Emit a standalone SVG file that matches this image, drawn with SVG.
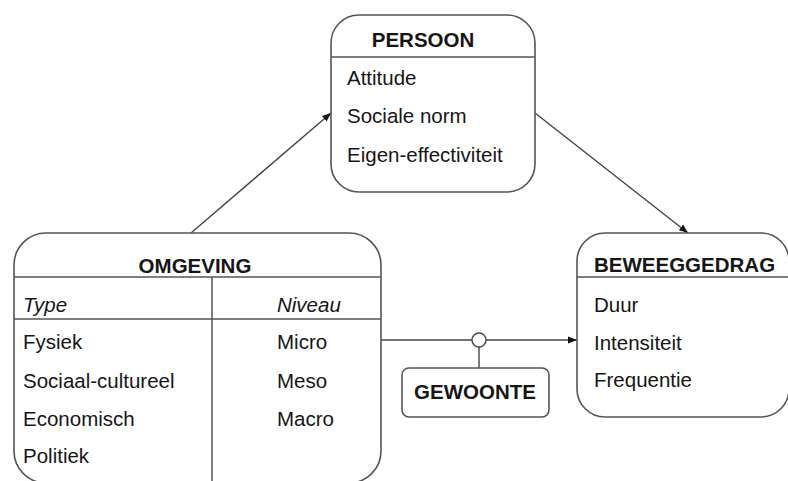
<svg xmlns="http://www.w3.org/2000/svg" width="788" height="481" viewBox="0 0 788 481">
<defs>
<style>
.box{fill:#fff;stroke:#555;stroke-width:1.6}
.sep{stroke:#555;stroke-width:1.5;fill:none}
.t{font-family:"Liberation Sans",Arial,sans-serif;font-size:20.5px;fill:#161616}
.b{font-weight:bold}
.i{font-style:italic}
.c{stroke:#444;stroke-width:1.4;fill:none}
</style>
<marker id="ah" viewBox="0 0 10 10" refX="10" refY="5" markerWidth="9" markerHeight="9" markerUnits="userSpaceOnUse" orient="auto">
<path d="M0,1 L10,5 L0,9 z" fill="#111"/>
</marker>
</defs>
<rect width="788" height="481" fill="#fff"/>
<g id="connectors">
<line class="c" x1="191" y1="233" x2="331" y2="113" marker-end="url(#ah)"/>
<line class="c" x1="535" y1="113" x2="688" y2="233" marker-end="url(#ah)"/>
<line class="c" x1="381" y1="340" x2="577" y2="340" marker-end="url(#ah)"/>
<line class="c" x1="479" y1="347" x2="479" y2="368"/>
<circle class="c" cx="479" cy="340" r="7" style="fill:#fff"/>
</g>
<g id="persoon">
<rect class="box" x="331" y="15" width="204" height="177" rx="28"/>
<line class="sep" x1="331" y1="57" x2="535" y2="57"/>
<text class="t b" x="423" y="47" text-anchor="middle">PERSOON</text>
<text class="t" x="347" y="85">Attitude</text>
<text class="t" x="347" y="123">Sociale norm</text>
<text class="t" x="347" y="162">Eigen-effectiviteit</text>
</g>
<g id="omgeving">
<rect class="box" x="14" y="233" width="367" height="250" rx="32"/>
<line class="sep" x1="14" y1="277" x2="381" y2="277"/>
<line class="sep" x1="14" y1="319" x2="381" y2="319"/>
<line class="sep" x1="212" y1="277" x2="212" y2="483"/>
<text class="t b" x="195" y="273" text-anchor="middle">OMGEVING</text>
<text class="t i" x="23" y="312">Type</text>
<text class="t i" x="277" y="312">Niveau</text>
<text class="t" x="23" y="349">Fysiek</text>
<text class="t" x="23" y="388">Sociaal-cultureel</text>
<text class="t" x="23" y="426">Economisch</text>
<text class="t" x="23" y="463">Politiek</text>
<text class="t" x="277" y="349">Micro</text>
<text class="t" x="277" y="388">Meso</text>
<text class="t" x="277" y="426">Macro</text>
</g>
<g id="beweeggedrag">
<rect class="box" x="577" y="233" width="212" height="184" rx="28"/>
<line class="sep" x1="577" y1="277" x2="789" y2="277"/>
<text class="t b" x="594" y="272">BEWEEGGEDRAG</text>
<text class="t" x="594" y="312">Duur</text>
<text class="t" x="594" y="350">Intensiteit</text>
<text class="t" x="594" y="387">Frequentie</text>
</g>
<g id="gewoonte">
<rect class="box" x="402" y="368" width="147" height="49" rx="7"/>
<text class="t b" x="475" y="399" text-anchor="middle">GEWOONTE</text>
</g>
</svg>
